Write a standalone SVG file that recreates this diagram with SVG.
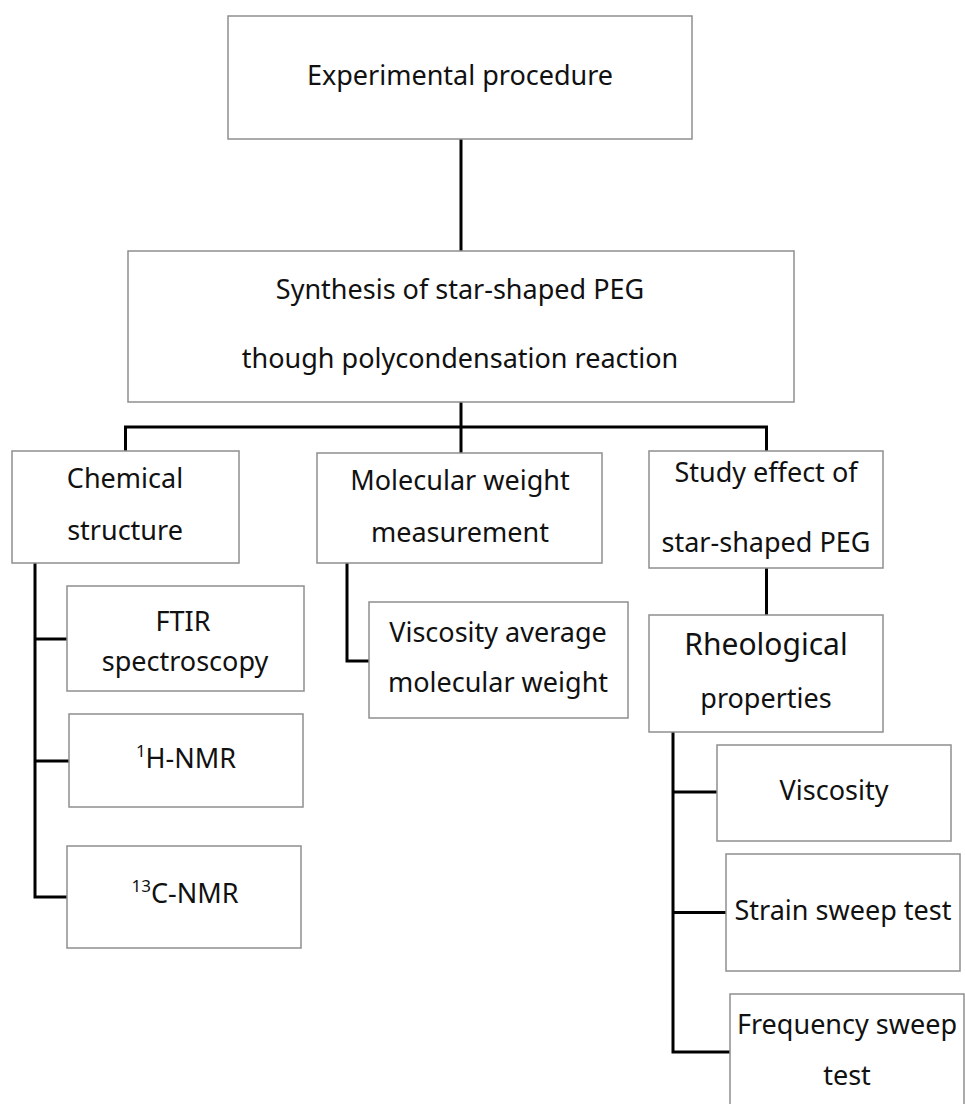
<svg xmlns="http://www.w3.org/2000/svg" width="965" height="1104" viewBox="0 0 965 1104">
<style>
.box{fill:#fff;stroke:#8f8f8f;stroke-width:1.5}
.t{font-family:"Noto Sans","Open Sans","Liberation Sans",sans-serif;font-size:27px;fill:#111;text-anchor:middle}
.big{font-size:30px}
.sup{font-size:17px}
.c{fill:none;stroke:#000;stroke-width:3;stroke-linejoin:miter}
</style>
<rect width="965" height="1104" fill="#fff"/>
<g id="connectors">
<path class="c" d="M461,139 V251"/>
<path class="c" d="M461,402 V427"/>
<path class="c" d="M125.5,451 V427 H766.5 V451"/>
<path class="c" d="M461,427 V453"/>
<path class="c" d="M35,563 V897 H67"/>
<path class="c" d="M35,639 H67"/>
<path class="c" d="M35,761 H69"/>
<path class="c" d="M347,563 V661 H369"/>
<path class="c" d="M766.5,568 V615"/>
<path class="c" d="M673,732 V1052 H730"/>
<path class="c" d="M673,792 H717"/>
<path class="c" d="M673,912.5 H726"/>
</g>
<g id="experimental">
<rect class="box" x="228" y="16" width="464" height="123"/>
<text class="t" x="460" y="85">Experimental procedure</text>
</g>
<g id="synthesis">
<rect class="box" x="128" y="251" width="666" height="151"/>
<text class="t" x="460" y="299">Synthesis of star-shaped PEG</text>
<text class="t" x="460" y="368">though polycondensation reaction</text>
</g>
<g id="chemical">
<rect class="box" x="12" y="451" width="227" height="112"/>
<text class="t" x="125" y="488">Chemical</text>
<text class="t" x="125" y="540">structure</text>
</g>
<g id="molecular">
<rect class="box" x="317" y="453" width="285" height="110"/>
<text class="t" x="460" y="490">Molecular weight</text>
<text class="t" x="460" y="542">measurement</text>
</g>
<g id="study">
<rect class="box" x="649" y="451" width="234" height="117"/>
<text class="t" x="766" y="482">Study effect of</text>
<text class="t" x="766" y="552">star-shaped PEG</text>
</g>
<g id="ftir">
<rect class="box" x="67" y="586" width="237" height="105"/>
<text class="t" x="183" y="631">FTIR</text>
<text class="t" x="185" y="671">spectroscopy</text>
</g>
<g id="hnmr">
<rect class="box" x="69" y="714" width="234" height="93"/>
<text class="t" x="186" y="768"><tspan class="sup" dy="-11">1</tspan><tspan dy="11">H-NMR</tspan></text>
</g>
<g id="cnmr">
<rect class="box" x="67" y="846" width="234" height="102"/>
<text class="t" x="185" y="903"><tspan class="sup" dy="-11">13</tspan><tspan dy="11">C-NMR</tspan></text>
</g>
<g id="viscosity-average">
<rect class="box" x="369" y="602" width="259" height="116"/>
<text class="t" x="498" y="642">Viscosity average</text>
<text class="t" x="498" y="692">molecular weight</text>
</g>
<g id="rheological">
<rect class="box" x="649" y="615" width="234" height="117"/>
<text class="t big" x="766" y="655">Rheological</text>
<text class="t" x="766" y="708">properties</text>
</g>
<g id="viscosity">
<rect class="box" x="717" y="745" width="234" height="96"/>
<text class="t" x="834" y="800">Viscosity</text>
</g>
<g id="strain">
<rect class="box" x="726" y="854" width="234" height="117"/>
<text class="t" x="843" y="920">Strain sweep test</text>
</g>
<g id="frequency">
<rect class="box" x="730" y="994" width="234" height="120"/>
<text class="t" x="847" y="1034">Frequency sweep</text>
<text class="t" x="847" y="1085">test</text>
</g>
</svg>
